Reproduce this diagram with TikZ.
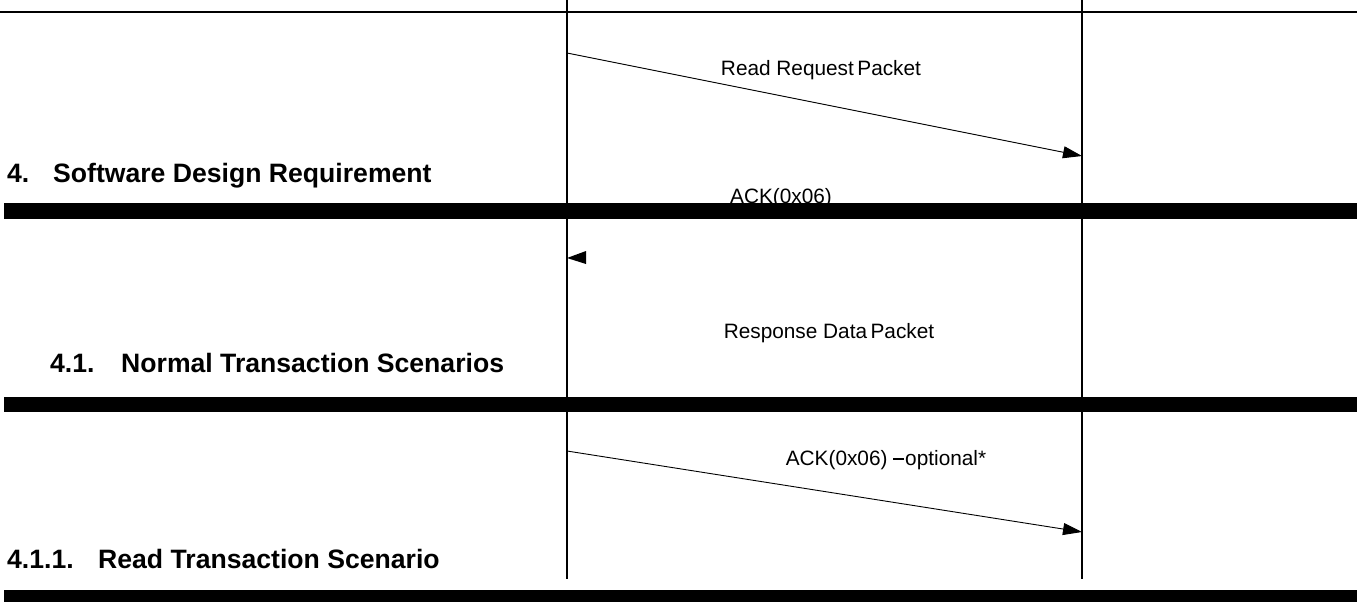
\documentclass[tikz,border=0pt]{standalone}
\usepackage{fontspec}
\setmainfont{Liberation Sans}
\usetikzlibrary{arrows.meta}
\tikzset{
  life/.style={line width=1.2pt},
  msg/.style={line width=0.9pt,-{Triangle[length=19pt,width=12pt]}},
  lbl/.style={inner sep=0pt,anchor=base,font=\fontsize{20.8}{24}\selectfont},
  head/.style={inner sep=0pt,anchor=base west,font=\bfseries\fontsize{26.6}{30}\selectfont},
  bar/.style={fill=black}
}
\begin{document}
\begin{tikzpicture}[x=1pt,y=-1pt]
\useasboundingbox (0,0) rectangle (1357,602);
% top rule
\coordinate (tl) at (0,12);
\coordinate (tr) at (1357,12);
\draw[line width=1.2pt] (tl) -- (tr);
% lifelines
\coordinate (lA) at (567,0);
\coordinate (lAb) at (567,579);
\coordinate (lB) at (1082,0);
\coordinate (lBb) at (1082,579);
\draw[life] (lA) -- (lAb);
\draw[life] (lB) -- (lBb);
% message 1
\coordinate (m1s) at (567,53);
\coordinate (m1e) at (1082,156);
\draw[msg] (m1s) -- (m1e);
\node[lbl] (t1) at (821,75) {Read Request\,Packet};
% ack label (partly covered)
\node[lbl] (t2) at (781,203) {ACK(0x06)};
% lone arrowhead at left lifeline
\coordinate (h2) at (567,258);
\fill (h2) -- (586,251) -- (586,264) -- cycle;
\node[lbl] (t3) at (829,338) {Response Data\,Packet};
% message 3
\coordinate (m3s) at (567,451);
\coordinate (m3e) at (1082,532);
\draw[msg] (m3s) -- (m3e);
\node[lbl] (t4) at (886,465) {ACK(0x06) \rule[0.23em]{0.5em}{0.09em}\kern1.5pt optional*};
% headings
\node[head] (h1) at (7,182) {\makebox[46pt][l]{4.}Software Design Requirement};
\node[head] (hh2) at (50,372) {\makebox[71pt][l]{4.1.}Normal Transaction Scenarios};
\node[head] (hh3) at (7,568) {\makebox[91pt][l]{4.1.1.}Read Transaction Scenario};
% thick bars
\fill[bar] (4,203) rectangle (1357,219);
\fill[bar] (4,397) rectangle (1357,412);
\fill[bar] (4,590) rectangle (1357,602);
\end{tikzpicture}
\end{document}
